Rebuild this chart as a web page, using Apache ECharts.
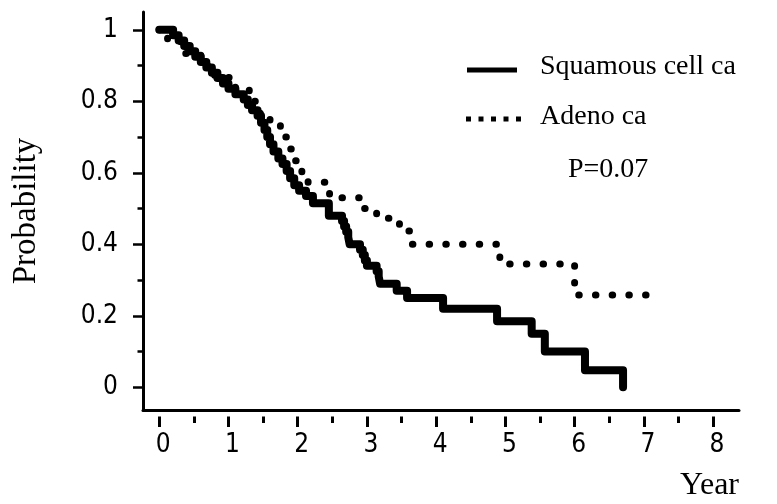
<!DOCTYPE html>
<html>
<head>
<meta charset="utf-8">
<script src="https://cdn.jsdelivr.net/npm/echarts@6/dist/echarts.min.js"></script>
<style>
html,body{margin:0;padding:0;background:#fff;}
#chart{width:777px;height:504px;}
</style>
</head>
<body>
<div id="chart"></div>
<script>
// Squamous cell ca: Kaplan-Meier steps (time in years, survival probability after the step)
const squamousT = [0, 0.2, 0.28, 0.36, 0.44, 0.52, 0.6, 0.68, 0.76, 0.84, 0.92, 1.0, 1.1, 1.22, 1.28, 1.34, 1.42, 1.47, 1.52, 1.56, 1.6, 1.65, 1.72, 1.78, 1.84, 1.89, 1.95, 2.02, 2.12, 2.22, 2.45, 2.64, 2.67, 2.7, 2.73, 2.75, 2.9, 2.94, 2.97, 3.0, 3.14, 3.17, 3.19, 3.43, 3.58, 4.1, 4.88, 5.38, 5.57, 6.15, 6.7];
const squamousP = [1.0, 0.985, 0.97, 0.955, 0.94, 0.925, 0.91, 0.895, 0.88, 0.865, 0.85, 0.835, 0.82, 0.805, 0.79, 0.775, 0.76, 0.74, 0.72, 0.70, 0.68, 0.66, 0.64, 0.625, 0.605, 0.585, 0.565, 0.55, 0.535, 0.515, 0.48, 0.465, 0.45, 0.435, 0.42, 0.40, 0.385, 0.37, 0.355, 0.34, 0.325, 0.31, 0.29, 0.27, 0.25, 0.22, 0.185, 0.15, 0.10, 0.048, 0.0];

// Adeno ca
const adenoT = [0, 0.12, 0.35, 0.6, 0.8, 1.1, 1.3, 1.45, 1.6, 1.75, 1.85, 1.95, 2.06, 2.15, 2.4, 2.46, 2.9, 3.14, 3.47, 3.62, 4.92, 6.0, 7.2];
const adenoP = [1.0, 0.967, 0.934, 0.9, 0.867, 0.834, 0.80, 0.767, 0.734, 0.70, 0.667, 0.634, 0.60, 0.574, 0.557, 0.53, 0.50, 0.473, 0.437, 0.40, 0.345, 0.258, 0.258];

const seriesNames = ['Squamous cell ca', 'Adeno ca'];
const pValueText = 'P=0.07';

const xMajorTicks = [0, 1, 2, 3, 4, 5, 6, 7, 8];
const xMinorTicks = [0.5, 1.5, 2.5, 3.5, 4.5, 5.5, 6.5, 7.5];
const yMajorTicks = [0, 0.2, 0.4, 0.6, 0.8, 1];
const yTickLabels = ['0', '0.2', '0.4', '0.6', '0.8', '1'];
const yMinorTicks = [0.1, 0.3, 0.5, 0.7, 0.9];

const xName = 'Year';
const yName = 'Probability';

const toPairs = (t, p) => t.map((v, i) => [v, p[i]]);

const XMIN = -0.235, XMAX = 8.375, YMIN = -0.0635, YMAX = 1.05;
const numFont = "'Liberation Sans Narrow', 'DejaVu Sans Condensed', sans-serif";
const serif = "'Liberation Serif', 'Times New Roman', serif";

const chart = echarts.init(document.getElementById('chart'), null, {renderer: 'canvas'});

const baseX = {type: 'value', min: XMIN, max: XMAX, gridIndex: 0, position: 'bottom', splitLine: {show: false}};
const baseY = {type: 'value', min: YMIN, max: YMAX, gridIndex: 0, position: 'left', splitLine: {show: false}};

const option = {
  animation: false,
  backgroundColor: '#fff',
  grid: {left: 143, right: 38, top: 12, bottom: 94, containLabel: false},
  xAxis: [
    Object.assign({}, baseX, {
      offset: 0,
      axisLine: {show: true, onZero: false, lineStyle: {color: '#000', width: 3}},
      axisTick: {show: false}, axisLabel: {show: false}
    }),
    Object.assign({}, baseX, {
      offset: 6.5,
      axisLine: {show: false, onZero: false},
      axisTick: {show: true, customValues: xMajorTicks, length: 10.5, lineStyle: {color: '#000', width: 3}},
      axisLabel: {show: true, customValues: xMajorTicks, margin: 16, fontFamily: numFont, fontSize: 26, color: '#000', padding: [0, 0, 0, 8]}
    }),
    Object.assign({}, baseX, {
      offset: 6.5,
      axisLine: {show: false, onZero: false},
      axisTick: {show: true, customValues: xMinorTicks, length: 6.5, lineStyle: {color: '#000', width: 3}},
      axisLabel: {show: false}
    }),
    Object.assign({}, baseX, {
      offset: 76,
      axisLine: {show: false, onZero: false},
      axisTick: {show: false}, axisLabel: {show: false},
      name: xName, nameLocation: 'end', nameGap: 0,
      nameTextStyle: {fontFamily: serif, fontSize: 32, color: '#000', align: 'right', verticalAlign: 'middle'}
    })
  ],
  yAxis: [
    Object.assign({}, baseY, {
      offset: 0,
      axisLine: {show: true, onZero: false, lineStyle: {color: '#000', width: 3}},
      axisTick: {show: true, customValues: yMajorTicks, length: 10, lineStyle: {color: '#000', width: 2.5}},
      axisLabel: {show: true, customValues: yMajorTicks, margin: 25, fontFamily: numFont, fontSize: 26, color: '#000',
        formatter: v => { const i = yMajorTicks.findIndex(t => Math.abs(t - v) < 1e-6); return i >= 0 ? yTickLabels[i] : ''; }},
      name: yName, nameLocation: 'middle', nameRotate: 90, nameGap: 100,
      nameTextStyle: {fontFamily: serif, fontSize: 33, color: '#000'}
    }),
    Object.assign({}, baseY, {
      offset: 0,
      axisLine: {show: false, onZero: false},
      axisTick: {show: true, customValues: yMinorTicks, length: 5.5, lineStyle: {color: '#000', width: 2.5}},
      axisLabel: {show: false}
    })
  ],
  series: [
    {
      name: seriesNames[0], type: 'line', xAxisIndex: 0, yAxisIndex: 0,
      step: 'end', symbol: 'none', clip: false,
      data: toPairs(squamousT, squamousP),
      lineStyle: {color: '#000', width: 8, cap: 'round', join: 'round'}
    },
    {
      name: seriesNames[1], type: 'line', xAxisIndex: 0, yAxisIndex: 0,
      step: 'end', symbol: 'none', clip: false,
      data: toPairs(adenoT, adenoP),
      lineStyle: {color: '#000', width: 7, type: [0.5, 16.2], cap: 'round', join: 'round'}
    }
  ],
  graphic: [
    {type: 'line', shape: {x1: 467, y1: 70, x2: 517, y2: 70}, style: {stroke: '#000', lineWidth: 5}},
    {type: 'line', shape: {x1: 466, y1: 119, x2: 521, y2: 119}, style: {stroke: '#000', lineWidth: 5, lineDash: [5, 7.5]}},
    {type: 'text', x: 540, y: 67, style: {text: seriesNames[0], font: '28px ' + serif, fill: '#000', textVerticalAlign: 'middle', verticalAlign: 'middle'}},
    {type: 'text', x: 540, y: 117, style: {text: seriesNames[1], font: '28px ' + serif, fill: '#000', textVerticalAlign: 'middle', verticalAlign: 'middle'}},
    {type: 'text', x: 568, y: 170, style: {text: pValueText, font: '28px ' + serif, fill: '#000', textVerticalAlign: 'middle', verticalAlign: 'middle'}}
  ]
};
chart.setOption(option);
</script>
</body>
</html>
